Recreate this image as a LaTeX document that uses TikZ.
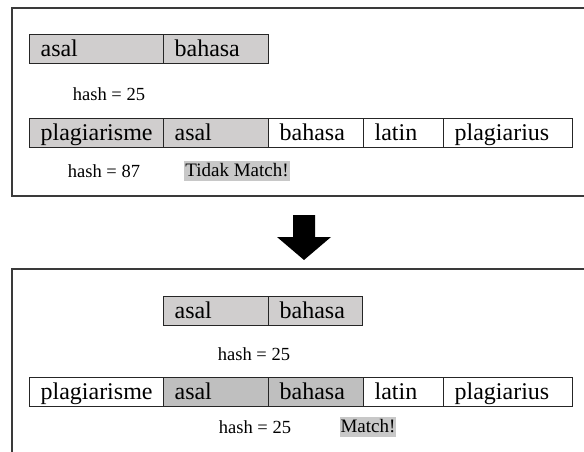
\documentclass[tikz,border=0pt]{standalone}
\usepackage{fontspec}
\setmainfont{Liberation Serif}
\definecolor{cellgray}{HTML}{D0CECE}
\definecolor{darkgray2}{HTML}{BFBFBF}
\definecolor{hlgray}{HTML}{C8C8C8}
\definecolor{framecol}{HTML}{3A3A3A}
\begin{document}
\begin{tikzpicture}[x=1pt,y=1pt,
  cell/.style={draw=black!85, line width=1.2pt, anchor=north west, inner xsep=11pt, inner ysep=0pt,
    align=left, minimum height=29pt, text height=18pt, text depth=4pt,
    font=\fontsize{24}{24}\selectfont},
  panel/.style={draw=framecol, line width=1.8pt},
  hashtxt/.style={font=\fontsize{18.5}{18.5}\selectfont, inner sep=0pt},
  hl/.style={fill=hlgray, font=\fontsize{19}{19}\selectfont, inner xsep=1pt, inner ysep=1.5pt, text height=13.5pt, text depth=3pt}
]
\useasboundingbox (0,0) rectangle (584,-452);
\clip (0,0) rectangle (584,-452);
% panels
\draw[panel] (12,-8) rectangle (600,-196);
\draw[panel] (12,-269) rectangle (600,-470);
% top panel
\node[cell, fill=cellgray, text width=112pt] (t1) at (29,-34) {asal};
\node[cell, fill=cellgray, text width=83pt] (t2) at (163,-34) {bahasa};
\node[hashtxt] (th1) at (109,-94) {hash = 25};
\node[cell, fill=cellgray, text width=112pt] (r1) at (29,-118) {plagiarisme};
\node[cell, fill=cellgray, text width=83pt] (r2) at (163,-118) {asal};
\node[cell, text width=73pt] (r3) at (268,-118) {bahasa};
\node[cell, text width=58pt] (r4) at (363,-118) {latin};
\node[cell, text width=107pt] (r5) at (443,-118) {plagiarius};
\node[hashtxt] (th2) at (104,-171) {hash = 87};
\node[hl] (tm) at (237,-171) {Tidak Match!};
% arrow
\fill[black] (293,-215) -- (315,-215) -- (315,-237) -- (331,-237) -- (304,-260)
  -- (277,-237) -- (293,-237) -- cycle;
% bottom panel
\node[cell, fill=cellgray, text width=83pt] (b1) at (163,-296) {asal};
\node[cell, fill=cellgray, text width=72pt] (b2) at (268,-296) {bahasa};
\node[hashtxt] (bh1) at (254,-354) {hash = 25};
\node[cell, text width=112pt] (s1) at (29,-377) {plagiarisme};
\node[cell, fill=darkgray2, text width=83pt] (s2) at (163,-377) {asal};
\node[cell, fill=darkgray2, text width=73pt] (s3) at (268,-377) {bahasa};
\node[cell, text width=58pt] (s4) at (363,-377) {latin};
\node[cell, text width=107pt] (s5) at (443,-377) {plagiarius};
\node[hashtxt] (bh2) at (255,-427) {hash = 25};
\node[hl] (bm) at (368,-427) {Match!};
\end{tikzpicture}
\end{document}
